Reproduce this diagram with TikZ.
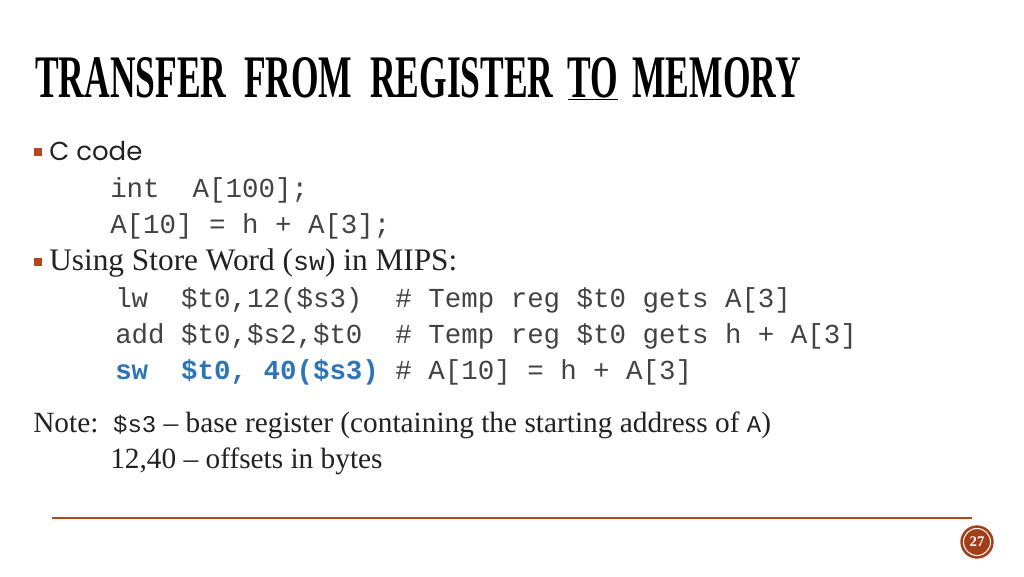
\documentclass[tikz,border=0pt]{standalone}
\usepackage{fontspec}
\setmainfont{Liberation Serif}
\newfontfamily\gothic{Poppins}
\setmonofont{Liberation Mono}
\definecolor{rust}{HTML}{B5451B}
\definecolor{codeblue}{HTML}{2E75B6}
\definecolor{txt}{HTML}{222222}
\begin{document}
\begin{tikzpicture}[x=0.75pt,y=-0.75pt,
  every node/.style={inner sep=0pt,anchor=base west,text=txt},
  code/.style={font=\ttfamily\fontsize{20.6}{21}\selectfont,text=txt!85},
  serif/.style={font=\fontsize{22}{22}\selectfont},
  bul/.style={fill=rust,minimum size=5.5pt,anchor=center}]
\useasboundingbox (0,0) rectangle (1024,576);
\fill[white] (0,0) rectangle (1024,576);
\node[text=black] (title) at (35,97) {\resizebox{574pt}{30pt}{\fontsize{44}{44}\selectfont\bfseries TRANSFER\hspace{0.5em}FROM\hspace{0.5em}REGISTER\hspace{0.4em}\underline{TO}\hspace{0.4em}MEMORY}};
\node[bul] (b1) at (38,152) {};
\node[font=\gothic\fontsize{19.5}{20}\selectfont] (c) at (49,160) {C code};
\node[code] (l1) at (110,197) {int\ \ A[100];};
\node[code] (l2) at (110,233) {A[10] = h + A[3];};
\node[bul] (b2) at (38,262) {};
\node[font=\fontsize{23.5}{24}\selectfont] (u) at (49,270) {Using Store Word (\texttt{\fontsize{20}{20}\selectfont sw}) in MIPS:};
\node[code] (m1) at (115,307) {lw\ \ \$t0,12(\$s3)\ \ \# Temp reg \$t0 gets A[3]};
\node[code] (m2) at (115,343) {add \$t0,\$s2,\$t0\ \ \# Temp reg \$t0 gets h + A[3]};
\node[code] (m3) at (115,379) {\textcolor{codeblue}{\bfseries sw\ \ \$t0, 40(\$s3)} \# A[10] = h + A[3]};
\node[serif] (n1) at (33,432) {Note:\ \ \texttt{\fontsize{18}{18}\selectfont\$s3} -- base register (containing the starting address of \texttt{\fontsize{18}{18}\selectfont A})};
\node[serif] (n2) at (110,468) {12,40 -- offsets in bytes};
\draw[rust,line width=0.9pt] (52,518) -- (972,518);
\node[circle,fill=rust!90!black,minimum size=25pt,anchor=center] (pg) at (977,542) {};
\draw[white,line width=0.8pt] (pg.center) circle (13.5);
\node[anchor=center,text=white,font=\bfseries\fontsize{11}{11}\selectfont] at (pg.center) {27};
\end{tikzpicture}
\end{document}
